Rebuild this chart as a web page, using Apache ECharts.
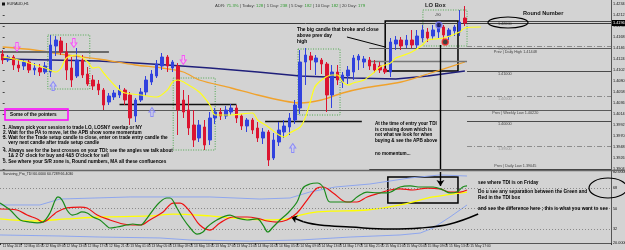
<!DOCTYPE html>
<html><head><meta charset="utf-8">
<script src="https://cdn.jsdelivr.net/npm/echarts/dist/echarts.min.js"></script>
<style>html,body{margin:0;padding:0;background:#d3d3d3}#c{width:625px;height:250px}</style>
</head><body><div id="c"></div><script>
// ---------- data ----------
const N = 115; // hourly slots incl. chart shift
const timeLabels = ["11 May 2015","12 May 05:00","12 May 09:00","12 May 13:00","12 May 17:00","12 May 21:00","13 May 01:00","13 May 05:00","13 May 09:00","13 May 13:00","13 May 17:00","13 May 21:00","14 May 01:00","14 May 05:00","14 May 09:00","14 May 13:00","14 May 17:00","14 May 21:00","15 May 01:00","15 May 05:00","15 May 09:00","15 May 13:00","15 May 17:00"];
const opens  = [1.4134,1.4122,1.4128,1.4112,1.4110,1.4118,1.4102,1.4106,1.4098,1.4098,1.4150,1.4160,1.4138,1.4106,1.4090,1.4122,1.4094,1.4082,1.4074,1.4062,1.4038,1.4048,1.4052,1.4062,1.4052,1.4010,1.4042,1.4058,1.4078,1.4090,1.4110,1.4128,1.4106,1.4110,1.4042,1.4022,1.3992,1.3966,1.3988,1.3962,1.4006,1.4018,1.4010,1.4018,1.4026,1.4010,1.3990,1.4002,1.3986,1.3966,1.3978,1.3926,1.3958,1.3978,1.3988,1.4002,1.4026,1.4118,1.4130,1.4118,1.4122,1.4114,1.4052,1.4098,1.4078,1.4090,1.4098,1.4122,1.4118,1.4122,1.4114,1.4110,1.4104,1.4098,1.4154,1.4162,1.4152,1.4162,1.4152,1.4166,1.4178,1.4170,1.4178,1.4188,1.4170,1.4180,1.4178,1.4206];
const closes = [1.4122,1.4128,1.4112,1.4106,1.4118,1.4102,1.4106,1.4098,1.4110,1.4152,1.4162,1.4138,1.4102,1.4082,1.4122,1.4092,1.4074,1.4070,1.4062,1.4032,1.4050,1.4056,1.4062,1.4042,1.4006,1.4042,1.4058,1.4082,1.4094,1.4114,1.4128,1.4110,1.4118,1.4022,1.4018,1.3986,1.3962,1.3992,1.3952,1.4006,1.4018,1.4010,1.4022,1.4026,1.4006,1.3990,1.4002,1.3982,1.3966,1.3978,1.3922,1.3962,1.3982,1.3990,1.4006,1.4032,1.4118,1.4132,1.4122,1.4126,1.4114,1.4052,1.4098,1.4082,1.4092,1.4102,1.4126,1.4130,1.4124,1.4110,1.4102,1.4102,1.4098,1.4158,1.4162,1.4150,1.4162,1.4152,1.4170,1.4182,1.4166,1.4182,1.4190,1.4172,1.4182,1.4188,1.4198,1.4196];
const lows   = [1.4114,1.4118,1.4102,1.4098,1.4102,1.4096,1.4092,1.4090,1.4094,1.4088,1.4130,1.4132,1.4082,1.4068,1.4086,1.4086,1.4070,1.4062,1.4052,1.4022,1.4032,1.4042,1.4046,1.4032,1.3992,1.3998,1.4038,1.4050,1.4072,1.4086,1.4102,1.4098,1.4098,1.3972,1.4006,1.3972,1.3948,1.3958,1.3942,1.3952,1.3994,1.4002,1.4004,1.4012,1.3996,1.3982,1.3978,1.3974,1.3958,1.3954,1.3910,1.3922,1.3950,1.3966,1.3972,1.3994,1.4014,1.4072,1.4102,1.4092,1.4094,1.4018,1.4026,1.4072,1.4066,1.4074,1.4082,1.4102,1.4106,1.4102,1.4096,1.4096,1.4094,1.4088,1.4142,1.4142,1.4146,1.4146,1.4146,1.4158,1.4158,1.4162,1.4166,1.4162,1.4162,1.4170,1.4170,1.4190];
const highs  = [1.4142,1.4132,1.4132,1.4122,1.4122,1.4122,1.4116,1.4114,1.4118,1.4172,1.4170,1.4168,1.4156,1.4128,1.4146,1.4132,1.4108,1.4092,1.4082,1.4066,1.4056,1.4062,1.4072,1.4066,1.4058,1.4046,1.4066,1.4090,1.4102,1.4122,1.4136,1.4132,1.4122,1.4116,1.4062,1.4052,1.4022,1.4002,1.4002,1.4018,1.4026,1.4026,1.4030,1.4034,1.4032,1.4014,1.4006,1.4006,1.3998,1.3986,1.3982,1.3976,1.3998,1.4002,1.4016,1.4042,1.4142,1.4146,1.4138,1.4132,1.4126,1.4118,1.4112,1.4112,1.4098,1.4110,1.4132,1.4134,1.4130,1.4128,1.4122,1.4118,1.4114,1.4166,1.4170,1.4168,1.4172,1.4182,1.4182,1.4192,1.4186,1.4192,1.4194,1.4192,1.4186,1.4192,1.4222,1.4230];
// moving averages [bar, price]
const orangeMA = [[0,1.4148],[6,1.4142],[12,1.4132],[18,1.4124],[25,1.4112],[30,1.4106],[34,1.4098],[37,1.4082],[43,1.4066],[48,1.4052],[53,1.4040],[56,1.4036],[60,1.4042],[64,1.4056],[68,1.4066],[75,1.4078],[80,1.4094],[87,1.4118]];
const navyMA = [[0,1.4124],[18,1.4120],[25,1.4116],[31,1.4112],[39,1.4106],[48,1.4098],[56,1.4090],[66,1.4086],[74,1.4084],[80,1.4090],[87,1.4100]];
const yellowMA = [[0,1.4128],[3,1.4122],[8,1.4106],[10,1.4098],[11,1.4106],[12,1.4126],[14,1.4132],[16,1.4118],[17,1.4106],[18,1.4108],[19,1.4096],[21,1.4072],[22,1.4062],[23,1.4056],[26,1.4052],[29,1.4048],[31,1.4062],[32,1.4078],[33,1.4082],[35,1.4072],[37,1.4058],[39,1.4032],[40,1.4012],[43,1.4012],[47,1.4016],[48,1.4002],[50,1.3988],[52,1.3972],[53,1.3968],[54,1.3976],[56,1.3988],[57,1.4008],[58,1.4042],[59,1.4072],[62,1.4092],[63,1.4092],[64,1.4078],[65,1.4072],[66,1.4076],[68,1.4082],[70,1.4098],[71,1.4108],[73,1.4116],[74,1.4126],[75,1.4130],[77,1.4138],[79,1.4152],[80,1.4162],[83,1.4166],[86,1.4178],[87,1.4186],[90,1.4188]];
// price levels
const currentPrice = 1.4196;
const roundLevels = [1.4200,1.4150,1.4100,1.4050,1.4000,1.3950];
const prevDailyHigh = 1.41448, prevWeeklyLow = 1.40220, prevDailyLow = 1.39045;
const srLines = [[-0.5,20,1.4138],[22,44,1.4033],[49.4,67.6,1.4000],[69,87.4,1.4120]]; // [fromBar,toBar,price]
const loBoxes = [[8.5,16.4,1.4172,1.4064],[32.1,40.0,1.4086,1.3942],[55.6,63.5,1.4144,1.4012],[79.1,87.4,1.4222,1.4150]];
const blackBox = [72.0,85.7,1.4200,1.4100];
const sellArrows = [[2.7,1.4148],[13.4,1.4156],[34,1.4122]];
const buyArrows = [[9.5,1.4070],[28.1,1.4018],[54.6,1.3946]];
const blueDot = [82.1,1.4192], redDot = [83.3,1.4158];
// TDI [bar, value]
const tdiGreen = [[-0.5,54.9],[1.4,48.8],[3.3,40.1],[5.1,38.3],[6.5,37.5],[7.6,38.3],[8.9,46.2],[9.9,57.5],[10.4,60.2],[11.2,57.5],[12.1,48.8],[13.1,44.4],[14.0,45.3],[14.9,47.1],[15.9,46.2],[17.0,42.7],[18.3,40.1],[19.6,34.8],[20.2,33.1],[21.5,34.0],[23.4,35.7],[24.5,36.6],[25.9,35.7],[27.2,41.8],[28.3,48.8],[29.6,55.8],[30.9,59.3],[31.5,59.3],[32.8,50.6],[33.9,41.8],[35.3,33.1],[36.6,27.8],[37.7,29.6],[38.5,34.0],[40.3,40.1],[42.8,44.4],[44.1,41.8],[46.0,40.1],[47.9,41.0],[49.0,35.7],[49.9,29.6],[50.9,34.0],[52.2,40.1],[53.7,46.2],[55.4,55.8],[56.5,68.0],[57.8,71.5],[59.2,72.4],[60.3,68.9],[61.6,55.8],[63.5,55.8],[65.4,55.8],[66.7,60.2],[68.6,64.5],[70.5,63.7],[72.3,63.7],[74.8,68.9],[76.7,69.8],[78.6,68.9],[81.0,68.9],[82.9,66.3],[84.2,63.7],[85.5,64.5],[86.6,68.9],[87.4,69.8]];
const tdiRed = [[-0.5,49.7],[2.7,48.8],[4.6,44.4],[6.5,41.0],[7.6,38.3],[9.5,44.4],[10.2,47.1],[12.1,50.6],[14.6,51.4],[15.9,50.6],[17.8,44.4],[20.2,40.1],[22.7,36.6],[24.5,35.7],[25.9,35.7],[27.7,40.1],[30.2,47.1],[32.1,54.9],[33.4,54.9],[35.3,47.1],[37.1,35.7],[39.0,31.3],[40.9,37.5],[43.4,42.7],[46.0,42.7],[48.4,41.0],[49.8,39.2],[51.6,38.3],[53.5,40.1],[55.4,46.2],[57.3,57.5],[59.2,68.0],[60.3,68.9],[62.2,63.7],[64.8,55.8],[66.7,55.8],[68.6,60.2],[71.0,63.7],[72.9,66.3],[74.8,67.2],[77.2,66.3],[79.9,68.0],[82.3,67.2],[84.2,64.5],[86.1,64.5],[87.4,66.3]];
const tdiYellow = [[-0.5,41.0],[5.7,39.2],[12.1,41.0],[18.3,42.7],[27.7,43.6],[32.1,45.3],[39.0,43.6],[43.4,41.8],[49.8,40.1],[53.5,41.0],[56.0,44.4],[59.2,47.1],[62.2,47.9],[68.6,48.8],[74.8,53.2],[81.0,60.2],[87.4,64.5]];
const tdiUpper = [[-0.5,53.2],[7.0,53.2],[10.8,58.4],[24.0,60.2],[39.0,60.2],[48.4,58.4],[54.1,59.3],[57.8,64.5],[62.6,68.9],[69.1,71.5],[76.7,76.8],[82.3,79.4],[87.4,78.5]];
const tdiLower = [[-0.5,27.0],[10.8,26.1],[18.3,25.2],[29.6,24.4],[35.3,22.6],[46.5,21.7],[56.0,22.6],[65.4,25.2],[74.8,27.0],[78.6,28.7],[81.0,33.1],[84.2,42.7],[87.4,53.2]];
const tdiLevels = [68,50,32];
const tdiBox = [72.5,85.7,77.6,54.9];
const tdiCurve = [[89.5,45.3],[84.2,36.6],[78.6,33.1],[72.9,32.2],[65.4,34.0],[59.7,35.7],[56.6,38.6]];
const tdiArrow = [[56.6,38.6],[54.3,42.7]];
const calloutLine = [[64.8,1.4168],[72,1.4148]];
const vArrowMain = [[82.4,1.4152],[82.4,1.3904]];
const vArrowTdi = [[82.4,82],[82.4,69.8]];

// ---------- build ----------
const FONT = '"Liberation Sans", Arial, sans-serif';
const catsMain = Array.from({length:N},(_,i)=>String(i));
const catsTime = Array.from({length:N},(_,i)=>(i%4===0 && i/4<timeLabels.length)?timeLabels[i/4]:'');
const candleData = opens.map((o,i)=>[o,closes[i],lows[i],highs[i]]);
const END = N-0.5, START = -0.5, roundStart = 87.4, prevStart = 69, labelBar = 94.5;

function seg(x1,x2,y,color,width,type){return [{coord:[x1,y],lineStyle:{color:color,width:width,type:type||'solid'}},{coord:[x2,y]}];}
const levelMarks = [];
levelMarks.push([{coord:[START,currentPrice],lineStyle:{color:'#3a3a3a',width:1,type:'solid'},
  label:{show:true,position:'end',formatter:currentPrice.toFixed(4),backgroundColor:'#000',color:'#fff',fontSize:3.8,padding:[1,1],distance:1,fontFamily:FONT}},{coord:[END,currentPrice]}]);
roundLevels.forEach((v,k)=>levelMarks.push(seg(roundStart,END,v,k%2?'#8c8c8c':'#4a4a4a',1,k%2?[5,2,1,2]:'solid')));
levelMarks.push(seg(prevStart,END,prevDailyHigh,'#5a5a5a',1));
levelMarks.push(seg(START,END,prevWeeklyLow,'#5a5a5a',1));
levelMarks.push(seg(prevStart,END,prevDailyLow,'#3a3a3a',1));
srLines.forEach((s,k)=>levelMarks.push(seg(s[0],s[1],s[2],k===0?'#6a6a6a':(k===3?'#777':'#111'),k===0?2.2:1.3)));
levelMarks.push([{coord:calloutLine[0],lineStyle:{color:'#000',width:1,type:'solid'}},{coord:calloutLine[1]}]);
levelMarks.push([{coord:vArrowMain[0],lineStyle:{color:'#000',width:1.4,type:'solid'}},{coord:vArrowMain[1]}]);

const boxAreas = loBoxes.map(b=>[{coord:[b[0],b[2]],itemStyle:{color:'rgba(0,0,0,0)',borderColor:'#4ea84e',borderWidth:1,borderType:[1,1.5]}},{coord:[b[1],b[3]]}]);
boxAreas.push([{coord:[blackBox[0],blackBox[2]],itemStyle:{color:'rgba(0,0,0,0)',borderColor:'#000',borderWidth:1.5,borderType:'solid'}},{coord:[blackBox[1],blackBox[3]]}]);

const levelLabelData = roundLevels.map((v,k)=>({value:[labelBar,v],label:{formatter:v.toFixed(5),color:k%2?'#8a8a8a':'#222'}}));
levelLabelData.push({value:[labelBar+2,prevDailyHigh],label:{formatter:'Prev | Daily High '+prevDailyHigh.toFixed(5),color:'#222'}});
levelLabelData.push({value:[labelBar+2,prevWeeklyLow],label:{formatter:'Prev | Weekly Low '+prevWeeklyLow.toFixed(5),color:'#222'}});
levelLabelData.push({value:[labelBar+2,prevDailyLow],label:{formatter:'Prev | Daily Low '+prevDailyLow.toFixed(5),color:'#222',position:'top',distance:0.5}});

const downPath='path://M3,0 L7,0 L7,6 L10,6 L5,12 L0,6 L3,6 Z';
const upPath='path://M5,0 L10,6 L7,6 L7,12 L3,12 L3,6 L0,6 Z';

function txt(x,y,text,size,bold,color){return {type:'text',x:x,y:y,z:100,style:{text:text,fill:color||'#000',font:(bold?'bold ':'')+size+'px '+FONT,align:'left',textAlign:'left',verticalAlign:'middle',textVerticalAlign:'middle'}};}

const graphics = [
  {type:'rect',z:100,shape:{x:2,y:2.5,width:3,height:3},style:{fill:'#111'}},
  txt(7,4,'EURAUD,H1',3.8,false,'#222'),
  {type:'text',x:215,y:6,z:100,style:{text:'{a|ADR:} {g|71.3%} {a|| Today:} {g|128} {a|| 1 Day:} {g|238} {a|| 5 Day:} {g|182} {a|| 10 Day:} {g|182} {a|| 20 Day:} {g|179}',
    font:'4.3px '+FONT,fill:'#333',verticalAlign:'middle',textVerticalAlign:'middle',
    rich:{a:{fill:'#3a3a3a',font:'4.3px '+FONT},g:{fill:'#2e9a2e',font:'4.3px '+FONT}}}},
  txt(425,5,'LO Box',5.8,true,'#222'),
  txt(435,15,'-90',4,false,'#333'),
  txt(523,13,'Round Number',5.6,true,'#111'),
  {type:'ellipse',z:100,shape:{cx:508,cy:22.5,rx:20,ry:5.5},style:{fill:'none',stroke:'#000',lineWidth:1.2}},
  txt(297,30,'The big candle that broke and close',4.8,true),
  txt(297,36,'above prev day',4.8,true),
  txt(297,42,'high',4.8,true),
  {type:'rect',z:100,shape:{x:5,y:109,width:63,height:11},style:{fill:'none',stroke:'#ff00ff',lineWidth:1.5}},
  txt(10,114.5,'Some of the pointers',4.7,true),
  txt(3,127.7,'1. Always pick your session to trade LO, LOSNY overlap or NY',4.7,true),
  txt(3,132.7,'2. Wait for the PA to move, let the APB show some momentum',4.7,true),
  txt(3,137.3,'3. Wait for the Trade setup candle to close, enter on trade entry candle the',4.7,true),
  txt(3,142.3,'    very next candle after trade setup candle',4.7,true),
  txt(3,150.7,'4. Always see for the best crosses on your TDI; see the angles we talk about',4.7,true),
  txt(3,155.3,'    1& 2 O\' clock for buy and 4&5 O\'clock for sell',4.7,true),
  txt(3,161.7,'5. See where your S/R zone is, Round numbers, MA all these confluences',4.7,true),
  txt(375,124,'At the time of entry your TDI',4.6,true),
  txt(375,129.5,'is crossing down which is',4.6,true),
  txt(375,135,'not what we look for when',4.6,true),
  txt(375,140.5,'buying & see the APB above',4.6,true),
  txt(375,154,'no momentum...',4.6,true),
  txt(3,174.5,'Surviving_Pro_TDI 60.0000 60.7289 66.4030',3.5,false,'#222'),
  txt(478,183,'see where TDI is on Friday',4.8,true),
  txt(478,192,'Do u see any separation between the Green and',4.8,true),
  txt(478,198,'Red in the TDI box',4.8,true),
  txt(478,209,'and see the difference here ; this is what you want to see',4.8,true),
  {type:'ellipse',z:100,shape:{cx:608,cy:188,rx:19,ry:10},style:{fill:'none',stroke:'#000',lineWidth:1.2}},
  {type:'line',z:90,shape:{x1:0,y1:170.5,x2:625,y2:170.5},style:{stroke:'#666',lineWidth:1.6}},
  {type:'line',z:90,shape:{x1:611.5,y1:0,x2:611.5,y2:243},style:{stroke:'#555',lineWidth:1}}
];

const option = {
  animation:false,
  backgroundColor:'#d3d3d3',
  textStyle:{fontFamily:FONT},
  grid:[
    {left:0,top:-2,width:611,height:171,containLabel:false,outerBoundsMode:'none'},
    {left:0,top:172,width:611,height:71,containLabel:false,outerBoundsMode:'none'}
  ],
  xAxis:[
    {type:'category',gridIndex:0,data:catsMain,boundaryGap:true,show:false},
    {type:'value',gridIndex:0,min:START,max:END,show:false},
    {type:'category',gridIndex:1,data:catsTime,boundaryGap:true,
      axisLine:{show:true,lineStyle:{color:'#555',width:1}},
      axisTick:{show:true,length:2,interval:(i)=>i%4===0 && i/4<timeLabels.length,lineStyle:{color:'#333'}},
      axisLabel:{show:true,interval:0,hideOverlap:false,align:'left',margin:1.5,fontSize:3.4,color:'#222',fontFamily:FONT},
      splitLine:{show:false}},
    {type:'value',gridIndex:1,min:START,max:END,show:false}
  ],
  yAxis:[
    {type:'value',gridIndex:0,position:'right',min:1.3904,max:1.4246,interval:0.0022,scale:true,
      axisLine:{show:false},axisTick:{show:true,length:2,lineStyle:{color:'#444'}},
      axisLabel:{show:true,margin:2,fontSize:3.8,color:'#111',fontFamily:FONT,showMaxLabel:false,hideOverlap:false,formatter:v=>v.toFixed(4)},
      splitLine:{show:false}},
    {type:'value',gridIndex:1,position:'right',min:20,max:82,interval:2,
      axisLine:{show:false},axisTick:{show:false},
      axisLabel:{show:true,margin:2,fontSize:3.8,color:'#111',fontFamily:FONT,hideOverlap:false,
        formatter:v=>{const r=Math.round(v); if(tdiLevels.indexOf(r)>=0&&Math.abs(v-r)<0.01) return String(r); if(Math.abs(v-82)<0.01) return '82.0000'; if(Math.abs(v-20)<0.01) return '20.0000'; return '';}},
      splitLine:{show:false}}
  ],
  series:[
    {type:'line',name:'navy',xAxisIndex:1,yAxisIndex:0,data:navyMA,showSymbol:false,symbol:'none',z:3,
      lineStyle:{color:'#1f1f7a',width:1.6},
      markArea:{silent:true,data:boxAreas}},
    {type:'line',name:'orange',xAxisIndex:1,yAxisIndex:0,data:orangeMA,showSymbol:false,symbol:'none',z:3,smooth:0.3,
      lineStyle:{color:'#f0a22c',width:1.3},
      markLine:{silent:true,symbol:['none','none'],label:{show:false},data:levelMarks}},
    {type:'candlestick',xAxisIndex:0,yAxisIndex:0,data:candleData,barWidth:3,z:5,
      itemStyle:{color:'#3142de',color0:'#dc1430',borderColor:'#3142de',borderColor0:'#dc1430',borderWidth:1}},
    {type:'line',name:'yellow',xAxisIndex:1,yAxisIndex:0,data:yellowMA,showSymbol:false,symbol:'none',z:6,smooth:0.3,
      lineStyle:{color:'#ffff1a',width:1.2}},
    {type:'scatter',xAxisIndex:1,yAxisIndex:0,data:sellArrows,symbol:downPath,symbolSize:[6,9],z:7,
      itemStyle:{color:'rgba(255,190,255,0.6)',borderColor:'#ff33ff',borderWidth:1}},
    {type:'scatter',xAxisIndex:1,yAxisIndex:0,data:buyArrows,symbol:upPath,symbolSize:[6,9],z:7,
      itemStyle:{color:'rgba(200,200,255,0.6)',borderColor:'#7a7aff',borderWidth:1}},
    {type:'scatter',xAxisIndex:1,yAxisIndex:0,data:[blueDot],symbol:'circle',symbolSize:6,z:8,
      itemStyle:{color:'#15155a',borderColor:'#8080ff',borderWidth:1.5}},
    {type:'scatter',xAxisIndex:1,yAxisIndex:0,data:[redDot],symbol:'circle',symbolSize:6,z:8,
      itemStyle:{color:'#1a1a1a',borderColor:'#ff2a2a',borderWidth:1.5}},
    {type:'scatter',xAxisIndex:1,yAxisIndex:0,data:levelLabelData,symbolSize:0,z:8,
      label:{show:true,position:'bottom',distance:1,fontSize:3.8,fontFamily:FONT}},
    // TDI
    {type:'line',xAxisIndex:3,yAxisIndex:1,data:tdiUpper,showSymbol:false,symbol:'none',z:3,lineStyle:{color:'#8ea6ee',width:1}},
    {type:'line',xAxisIndex:3,yAxisIndex:1,data:tdiLower,showSymbol:false,symbol:'none',z:3,lineStyle:{color:'#8ea6ee',width:1}},
    {type:'line',xAxisIndex:3,yAxisIndex:1,data:tdiYellow,showSymbol:false,symbol:'none',z:4,smooth:0.3,lineStyle:{color:'#ffff00',width:1.3},
      markLine:{silent:true,symbol:['none','none'],label:{show:false},
        data:tdiLevels.map(v=>[{coord:[START,v],lineStyle:{color:'#8a8a8a',width:1,type:[1,2]}},{coord:[END,v]}])},
      markArea:{silent:true,data:[[{coord:[tdiBox[0],tdiBox[2]],itemStyle:{color:'rgba(0,0,0,0)',borderColor:'#000',borderWidth:1.5}},{coord:[tdiBox[1],tdiBox[3]]}]]}},
    {type:'line',xAxisIndex:3,yAxisIndex:1,data:tdiRed,showSymbol:false,symbol:'none',z:5,smooth:0.35,lineStyle:{color:'#ee1111',width:1.2}},
    {type:'line',xAxisIndex:3,yAxisIndex:1,data:tdiGreen,showSymbol:false,symbol:'none',z:6,smooth:0.35,lineStyle:{color:'#1a8a1a',width:1.2}},
    {type:'line',xAxisIndex:3,yAxisIndex:1,data:tdiCurve,showSymbol:false,symbol:'none',z:7,smooth:0.4,lineStyle:{color:'#000',width:1.5},
      markLine:{silent:true,symbol:['none','arrow'],symbolSize:6,label:{show:false},
        data:[[{coord:tdiArrow[0],lineStyle:{color:'#000',width:1.5,type:'solid'}},{coord:tdiArrow[1]}],
              [{coord:vArrowTdi[0],lineStyle:{color:'#000',width:1.4,type:'solid'}},{coord:vArrowTdi[1]}]]}}
  ],
  graphic:graphics
};
const chart = echarts.init(document.getElementById('c'),null,{renderer:'canvas'});
chart.setOption(option);
</script></body></html>
